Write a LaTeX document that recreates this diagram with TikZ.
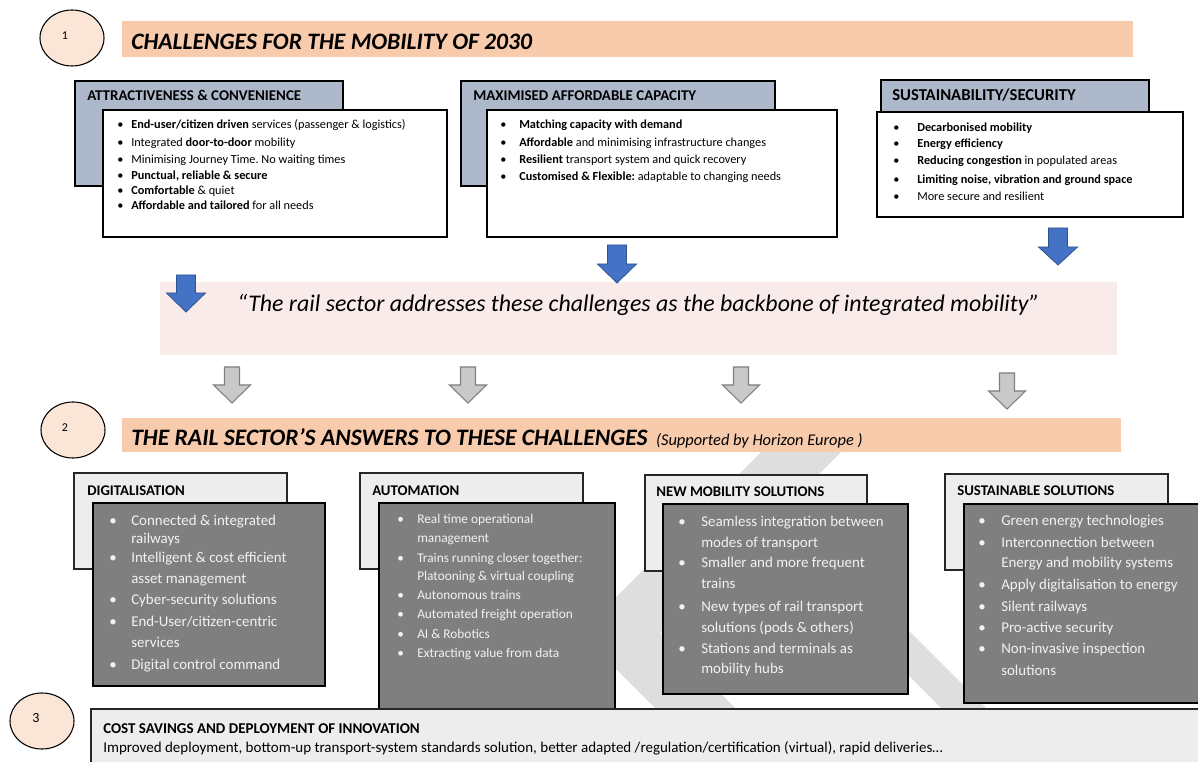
\documentclass[tikz,border=0pt]{standalone}
\usepackage{fontspec}
\setmainfont{Carlito}
\usetikzlibrary{fit,shapes.geometric}
\frenchspacing
\definecolor{peach}{HTML}{F8CBAD}
\definecolor{circfill}{HTML}{FBE5D6}
\definecolor{pinkbg}{HTML}{FAEBEB}
\definecolor{hdrblue}{HTML}{ADB9CA}
\definecolor{lightg}{HTML}{EDEDED}
\definecolor{darkg}{HTML}{7F7F7F}
\definecolor{txtlight}{HTML}{F2F2F2}
\definecolor{arrblue}{HTML}{4472C4}
\definecolor{arrblueline}{HTML}{2F528F}
\definecolor{arrgray}{HTML}{C9C9C9}
\definecolor{arrgrayline}{HTML}{7F7F7F}
\definecolor{wmark}{HTML}{DEDEDE}
\newcommand\bitem[6]{\node[#1] (#2b) at (#3,#5) {•}; \node[#1] (#2) at (#4,#5) {#6};}
\newcommand\blockarrow[7]{\draw[#1] ({#2-#6},#3) -- ({#2+#6},#3) -- ({#2+#6},#4) -- ({#2+#7},#4) -- (#2,#5) -- ({#2-#7},#4) -- ({#2-#6},#4) -- cycle;}
\begin{document}
\begin{tikzpicture}[x=0.75pt,y=-0.75pt,
  rect/.style={inner sep=0pt, outer sep=0pt},
  hdrone/.style={rect, draw=black, line width=0.8pt, fill=hdrblue},
  wbox/.style={rect, draw=black, line width=0.8pt, fill=white},
  hdrtwo/.style={rect, draw=black!85, line width=0.8pt, fill=lightg},
  dbox/.style={rect, draw=black, line width=1pt, fill=darkg},
  tbar/.style={rect, fill=peach},
  numc/.style={ellipse, draw=black, line width=0.8pt, fill=circfill, minimum width=48pt, minimum height=42pt, inner sep=0pt},
  txt/.style={inner sep=0pt, anchor=base west},
  itone/.style={txt, font=\fontsize{9.2}{11}\selectfont},
  hd/.style={txt, font=\fontsize{11.2}{13}\selectfont\bfseries},
  hdtwo/.style={txt, font=\fontsize{11.1}{13}\selectfont\bfseries},
  ittwo/.style={txt, font=\fontsize{11.2}{13}\selectfont, text=txtlight},
  itsmall/.style={txt, font=\fontsize{10}{12}\selectfont, text=txtlight},
  bluearr/.style={fill=arrblue, draw=arrblueline, line width=0.6pt},
  grayarr/.style={fill=arrgray, draw=arrgrayline, line width=0.8pt},
  title/.style={txt, font=\fontsize{17.7}{20}\selectfont\bfseries\itshape},
  numt/.style={font=\fontsize{9}{10}\selectfont, inner sep=0pt}
]
\useasboundingbox (0,0) rectangle (1198,762);
% watermark
\fill[wmark] (767,446) -- (847,446) -- (660,633) -- (742,715) -- (662,715) -- (580,633) -- cycle;
\fill[wmark] (723,490) -- (768,490) -- (993,715) -- (948,715) -- cycle;

% section 1
\node[numc] (c1) at (72,38) {};
\node[numt] (n1) at (65,36) {1};
\node[tbar, fit={(122,21) (1133,57)}] (bar1) {};
\node[title] (t1) at (131,50) {CHALLENGES FOR THE MOBILITY OF 2030};

\node[hdrone, fit={(75,81) (343,186)}] (hA) {};
\node[hd] (hAt) at (87,101) {ATTRACTIVENESS \& CONVENIENCE};
\node[wbox, fit={(103,110) (447,237)}] (wA) {};
\bitem{itone}{a1}{117}{131}{129}{\textbf{End-user/citizen driven} services (passenger \& logistics)}
\bitem{itone}{a2}{117}{131}{147}{Integrated \textbf{door-to-door} mobility}
\bitem{itone}{a3}{117}{131}{164}{Minimising Journey Time. No waiting times}
\bitem{itone}{a4}{117}{131}{180}{\textbf{Punctual, reliable \& secure}}
\bitem{itone}{a5}{117}{131}{195}{\textbf{Comfortable} \& quiet}
\bitem{itone}{a6}{117}{131}{210}{\textbf{Affordable and tailored} for all needs}

\node[hdrone, fit={(461,81) (775,186)}] (hB) {};
\node[hd] (hBt) at (473,101) {MAXIMISED AFFORDABLE CAPACITY};
\node[wbox, fit={(487,110) (837,237)}] (wB) {};
\bitem{itone}{b1}{500}{519}{129}{\textbf{Matching capacity with demand}}
\bitem{itone}{b2}{500}{519}{147}{\textbf{Affordable} and minimising infrastructure changes}
\bitem{itone}{b3}{500}{519}{164}{\textbf{Resilient} transport system and quick recovery}
\bitem{itone}{b4}{500}{519}{181}{\textbf{Customised \& Flexible:} adaptable to changing needs}

\node[hdrone, fit={(881,80) (1149,112)}] (hC) {};
\node[txt, font=\fontsize{12.5}{14}\selectfont\bfseries] (hCt) at (892,101) {SUSTAINABILITY/SECURITY};
\node[wbox, fit={(877,112) (1183,217)}] (wC) {};
\bitem{itone}{c1}{893}{917}{132}{\textbf{Decarbonised mobility}}
\bitem{itone}{c2}{893}{917}{148}{\textbf{Energy efficiency}}
\bitem{itone}{c3}{893}{917}{165}{\textbf{Reducing congestion} in populated areas}
\bitem{itone}{c4}{893}{917}{184}{\textbf{Limiting noise, vibration and ground space}}
\bitem{itone}{c5}{893}{917}{201}{More secure and resilient}

% quote band
\node[rect, fill=pinkbg, fit={(160,282) (1117,355)}] (pink) {};
\node[txt, font=\fontsize{17.9}{21}\selectfont\itshape] (quote) at (237,312) {“The rail sector addresses these challenges as the backbone of integrated mobility”};

\blockarrow{bluearr}{617}{245}{264}{283}{9.5}{19.5}
\blockarrow{bluearr}{1058}{228}{247}{265}{9.5}{19.5}
\blockarrow{bluearr}{186}{275}{293}{312}{9.5}{19.5}

\blockarrow{grayarr}{232}{367}{385}{403}{7.5}{18.5}
\blockarrow{grayarr}{468}{367}{385}{403}{7.5}{18.5}
\blockarrow{grayarr}{741}{367}{385}{403}{7.5}{18.5}
\blockarrow{grayarr}{1007}{373}{391}{409}{7.5}{18.5}

% section 2
\node[numc] (c2) at (73,430) {};
\node[numt] (n2) at (65,428) {2};
\node[tbar, fit={(122,418) (1121,452)}] (bar2) {};
\node[title] (t2) at (131,445) {THE RAIL SECTOR’S ANSWERS TO THESE CHALLENGES};
\node[txt, font=\fontsize{12.3}{14}\selectfont\itshape] (t2s) at ([xshift=6pt]t2.base east) {(Supported by Horizon Europe )};

\node[hdrtwo, fit={(74,473) (287,569)}] (hD) {};
\node[hdtwo] (hDt) at (87,495) {DIGITALISATION};
\node[dbox, fit={(93,503) (325,686)}] (dD) {};
\bitem{ittwo}{d1}{109}{131}{525}{Connected \& integrated}
\node[ittwo] (d1x) at (131,543) {railways};
\bitem{ittwo}{d2}{109}{131}{562}{Intelligent \& cost efficient}
\node[ittwo] (d2x) at (131,583) {asset management};
\bitem{ittwo}{d3}{109}{131}{604}{Cyber-security solutions}
\bitem{ittwo}{d4}{109}{131}{626}{End-User/citizen-centric}
\node[ittwo] (d4x) at (131,647) {services};
\bitem{ittwo}{d5}{109}{131}{669}{Digital control command}

\node[hdrtwo, fit={(360,473) (583,569)}] (hE) {};
\node[hdtwo] (hEt) at (372,495) {AUTOMATION};
\node[dbox, fit={(379,503) (615,711)}] (dE) {};
\bitem{itsmall}{e1}{397}{417}{523}{Real time operational}
\node[itsmall] (e1x) at (417,542) {management};
\bitem{itsmall}{e2}{397}{417}{562}{Trains running closer together:}
\node[itsmall] (e2x) at (417,580) {Platooning \& virtual coupling};
\bitem{itsmall}{e3}{397}{417}{599}{Autonomous trains}
\bitem{itsmall}{e4}{397}{417}{618}{Automated freight operation}
\bitem{itsmall}{e5}{397}{417}{638}{AI \& Robotics}
\bitem{itsmall}{e6}{397}{417}{657}{Extracting value from data}

\node[hdrtwo, fit={(645,475) (867,571)}] (hF) {};
\node[hdtwo] (hFt) at (656,496) {NEW MOBILITY SOLUTIONS};
\node[dbox, fit={(663,504) (908,694)}] (dF) {};
\bitem{ittwo}{f1}{678}{701}{526}{Seamless integration between}
\node[ittwo] (f1x) at (701,547) {modes of transport};
\bitem{ittwo}{f2}{678}{701}{567}{Smaller and more frequent}
\node[ittwo] (f2x) at (701,588) {trains};
\bitem{ittwo}{f3}{678}{701}{611}{New types of rail transport}
\node[ittwo] (f3x) at (701,632) {solutions (pods \& others)};
\bitem{ittwo}{f4}{678}{701}{653}{Stations and terminals as}
\node[ittwo] (f4x) at (701,673) {mobility hubs};

\node[hdrtwo, fit={(945,474) (1168,570)}] (hG) {};
\node[hdtwo] (hGt) at (957,495) {SUSTAINABLE SOLUTIONS};
\node[dbox, fit={(964,504) (1202,703)}] (dG) {};
\bitem{ittwo}{g1}{978}{1001}{525}{Green energy technologies}
\bitem{ittwo}{g2}{978}{1001}{547}{Interconnection between}
\node[ittwo] (g2x) at (1001,567) {Energy and mobility systems};
\bitem{ittwo}{g3}{978}{1001}{589}{Apply digitalisation to energy}
\bitem{ittwo}{g4}{978}{1001}{611}{Silent railways}
\bitem{ittwo}{g5}{978}{1001}{632}{Pro-active security}
\bitem{ittwo}{g6}{978}{1001}{653}{Non-invasive inspection}
\node[ittwo] (g6x) at (1001,675) {solutions};

% section 3
\node[numc] (c3) at (42,721) {};
\node[numt, font=\fontsize{10.5}{12}\selectfont] (n3) at (36,718) {3};
\node[hdrtwo, fit={(91,709) (1203,766)}] (bot) {};
\node[txt, font=\fontsize{11.25}{13}\selectfont\bfseries] (bot1) at (103,733) {COST SAVINGS AND DEPLOYMENT OF INNOVATION};
\node[txt, font=\fontsize{11.25}{13}\selectfont] (bot2) at (103,752) {Improved deployment, bottom-up transport-system standards solution, better adapted /regulation/certification (virtual), rapid deliveries…};
\end{tikzpicture}
\end{document}
